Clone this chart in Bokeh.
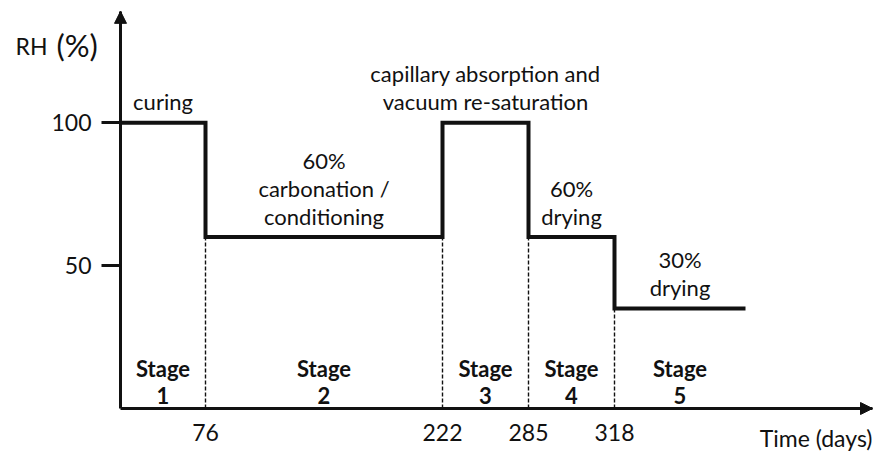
from bokeh.plotting import figure
from bokeh.models import Arrow, NormalHead, FixedTicker
from bokeh.core.properties import value
from bokeh.embed import file_html
from bokeh.resources import INLINE

# ---- data -------------------------------------------------------------
# stage boundaries (days) and their position on the schematic time axis
boundary_days = [0, 76, 222, 285, 318]
schematic_x = [0, 85, 322, 408, 494, 625]     # last value: end of drawn line
rh_levels = [100, 60, 100, 60, 35]            # RH level in each stage (%)
stage_names = ["1", "2", "3", "4", "5"]
stage_notes = [["curing"],
               ["60%", "carbonation /", "conditioning"],
               ["capillary absorption and", "vacuum re-saturation"],
               ["60%", "drying"],
               ["30%", "drying"]]
y_ticks = [50, 100]

FONT = "Lato"
INK = "#111111"

p = figure(width=876, height=452, x_range=(-120, 756), y_range=(-15.4, 142.8),
           output_backend="svg", toolbar_location=None,
           min_border_left=0, min_border_bottom=0,
           min_border_top=0, min_border_right=0)
p.outline_line_color = None
p.xgrid.grid_line_color = None
p.ygrid.grid_line_color = None
p.background_fill_color = None
p.border_fill_color = "white"

# ---- axes (pinned at the origin) -------------------------------------
xa = p.xaxis[0]
xa.fixed_location = 0
xa.bounds = (0, 752)
xa.ticker = FixedTicker(ticks=schematic_x[1:5])
xa.major_label_overrides = {schematic_x[i]: str(boundary_days[i]) for i in range(1, 5)}
xa.major_tick_out = 0
xa.major_tick_in = 0
xa.minor_tick_out = 0
xa.minor_tick_in = 0
xa.axis_line_width = 3
xa.axis_line_color = INK
xa.major_label_standoff = 15
xa.major_label_text_font = FONT
xa.major_label_text_font_size = "23px"
xa.major_label_text_color = INK

ya = p.yaxis[0]
ya.fixed_location = 0
ya.bounds = (0, 139)
ya.ticker = FixedTicker(ticks=y_ticks)
ya.major_tick_out = 19
ya.major_tick_in = 0
ya.minor_tick_out = 0
ya.minor_tick_in = 0
ya.major_tick_line_width = 3
ya.major_tick_line_color = INK
ya.axis_line_width = 3
ya.axis_line_color = INK
ya.major_label_standoff = 10
ya.major_label_text_font = FONT
ya.major_label_text_font_size = "23px"
ya.major_label_text_color = INK

# arrow heads on the axes
p.add_layout(Arrow(x_start=725, y_start=0, x_end=752, y_end=0, line_width=3,
                   line_color=INK,
                   end=NormalHead(size=12, fill_color=INK, line_color=INK)))
p.add_layout(Arrow(x_start=0, y_start=128, x_end=0, y_end=139, line_width=3,
                   line_color=INK,
                   end=NormalHead(size=12, fill_color=INK, line_color=INK)))

# ---- dashed stage separators -----------------------------------------
sep_x = schematic_x[1:5]
sep_top = [min(rh_levels[i - 1], rh_levels[i]) for i in range(1, 5)]
p.segment(x0=sep_x, y0=[0] * len(sep_x), x1=sep_x, y1=sep_top,
          line_color=INK, line_width=1.4, line_dash="4 2")

# ---- RH step line -----------------------------------------------------
p.step(x=schematic_x, y=rh_levels + [rh_levels[-1]], mode="after",
       line_color=INK, line_width=4, line_join="miter")

# ---- stage labels -----------------------------------------------------
mids = [(schematic_x[i] + schematic_x[i + 1]) / 2 for i in range(5)]
p.text(x=mids, y=[0] * 5, text=["Stage"] * 5, y_offset=-40,
       text_font=value(FONT), text_font_size="22px", text_font_style="bold",
       text_align="center", text_baseline="middle", text_color=INK)
p.text(x=mids, y=[0] * 5, text=stage_names, y_offset=-13,
       text_font=value(FONT), text_font_size="22px", text_font_style="bold",
       text_align="center", text_baseline="middle", text_color=INK)

# ---- stage descriptions ----------------------------------------------
LINE = 28
for i, lines in enumerate(stage_notes):
    n = len(lines)
    for j, t in enumerate(lines):
        off = -(21 + (n - 1 - j) * LINE)
        p.text(x=[mids[i]], y=[rh_levels[i]], text=[t], y_offset=off,
               text_font=value(FONT), text_font_size="22px",
               text_align="center", text_baseline="middle", text_color=INK)

# ---- axis titles ------------------------------------------------------
p.text(x=[-105], y=[y_ticks[-1]], text=["RH"], y_offset=-77,
       text_font=value(FONT), text_font_size="23px",
       text_baseline="middle", text_color=INK)
p.text(x=[-64], y=[y_ticks[-1]], text=["(%)"], y_offset=-78,
       text_font=value(FONT), text_font_size="31px",
       text_baseline="middle", text_color=INK)
p.text(x=[752], y=[0], text=["Time (days)"], y_offset=29,
       text_font=value(FONT), text_font_size="23px",
       text_align="right", text_baseline="middle", text_color=INK)

open("out.html", "w").write(file_html(p, INLINE))
